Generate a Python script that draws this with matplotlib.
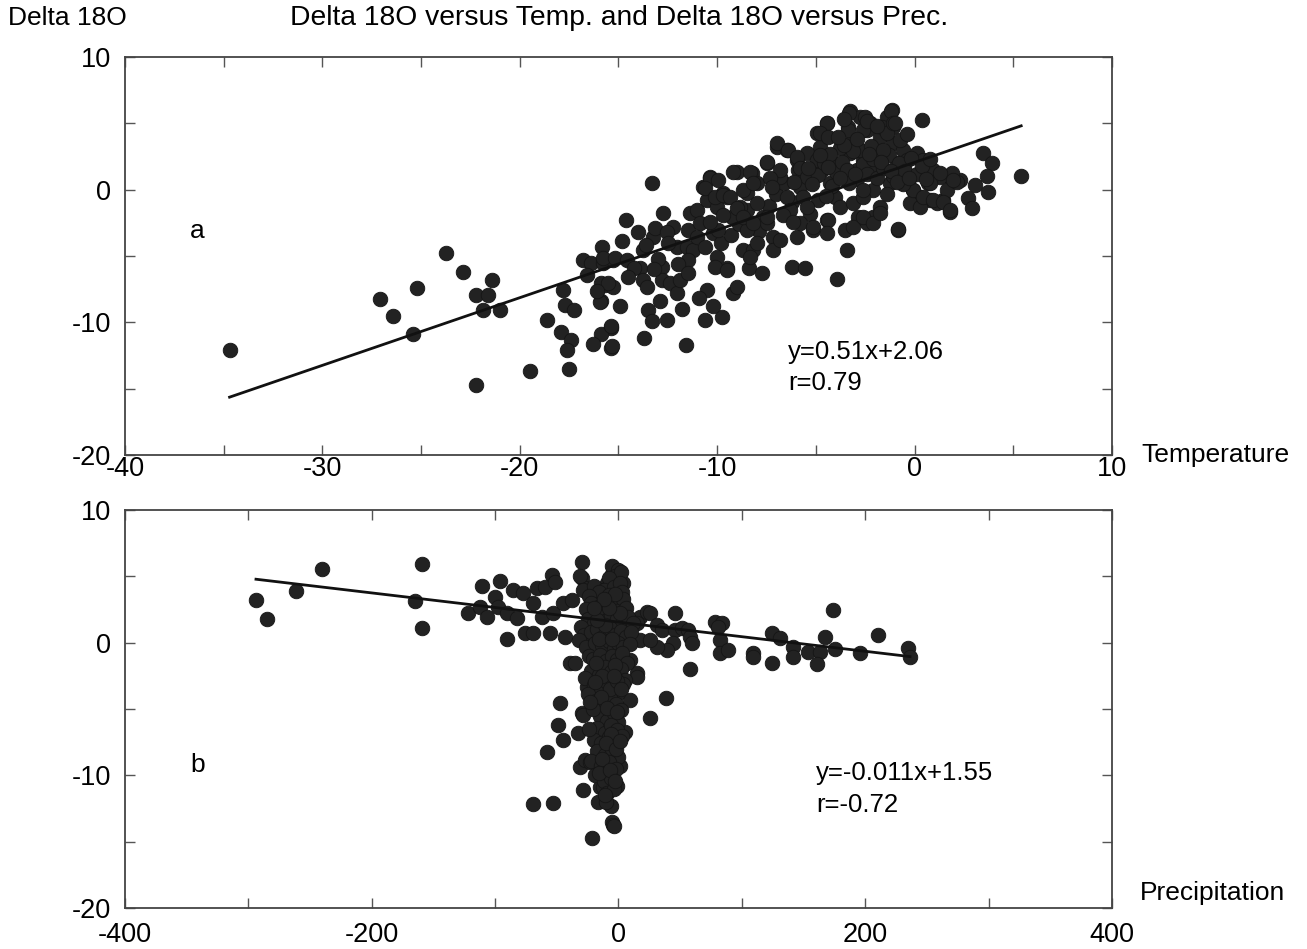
import matplotlib
matplotlib.use("Agg")
import matplotlib.pyplot as plt
import numpy as np
from matplotlib.ticker import MultipleLocator

plt.rcParams['font.family'] = ['Liberation Sans', 'DejaVu Sans']
plt.rcParams['axes.unicode_minus'] = False

# ---------------- data: panel a (Temperature, Delta 18O) ----------------
a_left = [(-34.7, -12.1), (-27.1, -8.26), (-26.4, -9.5), (-25.2, -7.4), (-25.4, -10.9),
          (-23.75, -4.75), (-22.9, -6.2), (-21.4, -6.8), (-22.2, -7.9), (-21.6, -7.9),
          (-21.85, -9.1), (-21.0, -9.1), (-22.2, -14.7), (-19.5, -13.7), (-18.6, -9.8),
          (-17.8, -7.56), (-17.7, -8.7), (-17.25, -9.1), (-17.9, -10.7), (-17.4, -11.3),
          (-17.6, -12.1), (-17.5, -13.5), (-16.8, -5.3), (-16.4, -5.55), (-15.85, -4.3),
          (-15.8, -5.55), (-15.3, -5.3), (-15.7, -7.2), (-15.3, -7.3), (-15.9, -8.4),
          (-15.4, -10.4), (-15.9, -10.9), (-16.3, -11.6), (-15.4, -11.9)]

a_outer = [(-14.6, -2.3), (-13.3, 0.5), (-13.5, -9.1), (-13.3, -9.9), (-12.55, -9.8),
           (-13.7, -11.2), (-11.6, -11.7), (-15.35, -11.8), (-15.4, -10.3), (-10.6, -9.8),
           (-9.77, -9.6), (-10.5, -7.56), (-10.2, -8.8), (-9.2, -7.8), (-9.0, -7.3),
           (-3.95, -6.7), (-6.2, -5.8), (-5.55, -5.9), (-8.4, -5.9), (-7.75, -6.3),
           (-9.5, -5.9), (-0.83, -3.0), (5.4, 1.03), (0.36, 5.25), (-3.27, 5.9),
           (-1.16, 6.0), (3.48, 2.8), (3.9, 2.0), (3.65, 1.0), (3.06, 0.35),
           (3.73, -0.15), (2.72, -0.65), (2.9, -1.4), (1.8, -1.65), (1.7, 1.0), (2.3, 0.73)]

a_cloud_left = [(-15.77, -5.17), (-15.18, -5.17), (-14.59, -5.3), (-14.0, -3.16), (-13.74, -4.54),
                (-13.24, -3.54), (-13.91, -5.92), (-13.74, -6.8), (-13.58, -7.3), (-12.82, -5.8),
                (-12.82, -6.8), (-12.39, -7.05), (-12.06, -7.81), (-11.89, -6.8), (-15.86, -7.05),
                (-15.52, -7.05), (-15.94, -8.44), (-13.15, -2.91), (-12.73, -1.78), (-12.23, -2.78),
                (-12.56, -3.16), (-12.06, -4.29), (-11.55, -4.29), (-11.47, -3.03), (-11.38, -1.78),
                (-11.04, -1.53), (-10.87, -2.53), (-11.21, -4.54), (-11.47, -5.3), (-10.03, -5.04),
                (-10.11, -5.8), (-9.52, -6.05)]

a_cloud_extra = [(-14.8, -3.9), (-14.2, -5.9), (-13.6, -4.2), (-13.0, -5.2), (-12.5, -4.0),
                 (-12.0, -5.6), (-11.5, -6.3), (-11.0, -3.6), (-10.6, -4.3), (-10.2, -3.3),
                 (-9.8, -4.0), (-9.3, -3.4), (-8.9, -2.6), (-8.5, -1.5), (-7.9, -3.1),
                 (-7.4, -1.2), (-7.0, -0.3), (-6.6, 0.5), (-6.2, -0.9), (-5.8, 0.2),
                 (-5.3, -1.8), (-4.9, -0.8), (-14.5, -6.6), (-13.2, -6.0), (-12.9, -8.4),
                 (-11.8, -9.0), (-10.9, -8.2), (-16.6, -6.4), (-16.1, -7.6), (-14.9, -8.8)]

a_cloud_mid = [(-10.71, 0.23), (-10.37, 0.98), (-10.54, -0.77), (-10.03, -1.28), (-9.95, -3.03),
               (-9.69, -0.27), (-9.52, -0.52), (-9.02, 1.36), (-8.85, -1.28), (-8.51, -0.27),
               (-9.27, -2.03), (-8.51, -3.03), (-8.68, -4.54), (-8.17, -4.54), (-8.0, -4.04),
               (-8.34, -5.04), (-8.26, 1.24), (-8.0, 0.48), (-8.0, -1.03), (-7.67, -2.03),
               (-7.5, 1.99), (-7.5, -2.53), (-7.16, -3.54), (-6.99, 3.24), (-6.82, 0.98),
               (-6.48, 2.99), (-6.48, -0.52), (-6.31, -1.53), (-5.98, 2.24), (-5.89, 1.49),
               (-7.16, -4.54), (-6.82, -3.79), (-5.98, -3.54), (-5.81, -2.53)]

a_cloud_right = [(-5.64, -0.52), (-5.47, -1.28), (-5.13, -3.03), (-4.96, 4.25), (-4.8, 3.24),
                 (-4.71, 1.49), (-4.46, 5.0), (-4.46, -2.28), (-4.29, 0.48), (-4.12, 1.99),
                 (-4.04, -0.52), (-3.78, -1.28), (-3.44, -4.54), (-3.36, 4.75), (-3.28, 2.74),
                 (-3.44, 0.98), (-3.53, -3.03), (-3.11, 3.75), (-2.94, 1.49), (-2.77, 5.5),
                 (-2.6, 2.24), (-2.43, 4.5), (-2.26, 2.99), (-2.09, -0.02), (-1.92, 1.74),
                 (-1.76, 4.0), (-1.59, 2.74), (-1.42, 5.5), (-1.25, 0.48), (-1.08, 4.75),
                 (-1.08, 3.5), (-0.91, 1.99), (-0.74, 1.24), (-2.85, -2.03), (-2.43, -2.53),
                 (-2.09, -2.03), (-1.76, -1.28), (-3.11, -1.03), (-2.6, -0.52), (-0.57, 2.99),
                 (-0.4, 2.24), (-0.24, 0.98), (-0.07, -0.02), (0.1, 2.74), (0.27, -0.52),
                 (0.44, 2.24), (0.69, 0.48), (0.78, -0.77), (0.95, 1.49), (1.12, -1.03),
                 (1.45, -0.77), (1.28, 0.98), (-0.24, -1.03), (0.27, -1.28), (1.62, -0.02),
                 (1.87, 1.24), (2.13, 0.61)]

a_cloud_upper = [(-3.31, 5.8), (-1.21, 5.95), (-4.45, 5.05), (-4.79, 4.25), (-4.37, 4.0),
                 (-2.51, 5.5), (-2.25, 5.0), (-2.6, 4.5), (-3.36, 4.5), (-1.67, 4.75),
                 (-1.41, 4.25), (-1.08, 5.0), (-0.74, 3.75), (-3.78, 3.12), (-3.27, 3.24),
                 (-2.77, 3.0), (-2.09, 2.74), (-6.99, 3.5), (-6.4, 2.99), (-5.47, 2.74),
                 (-5.97, 2.49), (-7.49, 2.11), (-6.82, 1.49), (-5.81, 1.61), (-5.47, 0.98),
                 (-4.96, 2.24), (-9.18, 1.36), (-8.34, 1.36), (-10.37, 0.86), (-9.94, 0.73),
                 (-10.62, 0.1), (-10.11, -0.53), (-9.69, -0.4), (-9.35, -0.53), (-8.68, -0.02),
                 (-8.17, 0.48), (-7.33, 0.86), (-7.24, 0.23), (-9.69, -1.9), (-9.01, -1.4),
                 (-10.37, -2.41), (-8.68, -2.03), (-8.17, -2.53), (-7.49, -2.03), (-6.65, -1.9),
                 (-6.14, -2.41), (-5.13, -2.79), (-4.37, -2.28), (-4.45, -3.29), (-3.1, -2.79),
                 (-2.6, -2.03), (-2.09, -2.53), (-1.75, -1.78), (-0.83, -2.98), (-0.07, -0.02),
                 (0.44, -0.53), (0.95, -0.78), (1.45, -0.9), (1.79, -1.53), (0.78, 0.48),
                 (1.28, 1.24), (1.96, 0.73)]

a_core = [(-4.9, 1.1), (-4.6, 2.0), (-4.3, 2.7), (-4.0, 1.3), (-3.7, 2.1), (-3.4, 1.5),
          (-3.1, 2.9), (-2.9, 0.8), (-2.6, 1.9), (-2.4, 1.2), (-2.1, 2.3), (-1.9, 0.9),
          (-1.6, 1.6), (-1.3, 2.6), (-1.1, 1.0), (-0.8, 2.0), (-0.5, 1.4), (-0.2, 2.4),
          (0.1, 1.2), (0.4, 1.8), (-3.6, 3.4), (-2.9, 3.8), (-2.2, 3.3), (-1.6, 3.0),
          (-4.2, 0.3), (-3.3, 0.5), (-2.6, 0.0), (-1.4, -0.3), (-0.6, 0.4), (-5.4, 1.6),
          (-6.1, 0.6), (-4.8, 2.6), (-3.9, 4.0), (-2.4, 5.2), (-3.6, 5.3), (-1.9, 4.8),
          (-0.4, 4.2), (-1.0, 5.0), (-4.4, 1.7), (-3.8, 0.9), (-3.0, 1.2), (-2.3, 2.7),
          (-1.7, 2.1), (-1.2, 1.4), (-0.9, 0.6), (-0.3, 0.9), (0.6, 0.8), (0.8, 2.3),
          (-5.2, 0.4), (-4.5, -0.5)]

slope_a, icpt_a = 0.51, 2.06
eq_a = "y=0.51x+2.06"
r_a = "r=0.79"

# ---------------- data: panel b (Precipitation, Delta 18O) ----------------
b_outer = [(-293.8, 3.21), (-285, 1.78), (-261.6, 3.92), (-240, 5.55), (-165.2, 3.16),
           (-159.5, 5.93), (-159, 1.08), (-121.7, 2.2), (-111, 4.27), (-112.3, 2.71),
           (-106.9, 1.96), (-96, 4.65), (-100.1, 3.47), (-97.4, 2.71), (-90.7, 2.21),
           (-90.7, 0.25), (-85.3, 3.97), (-77.2, 3.72), (-82.6, 1.83), (-75.8, 0.7),
           (-69, 0.7), (-66.4, 4.1), (-59.6, 4.22), (-54.2, 5.1), (-51.5, 4.6),
           (-69, 2.96), (-62.3, 1.96), (-55.5, 0.7), (-52.8, 2.21), (-43.4, 0.45),
           (-44.8, 2.96), (-38, 3.21), (-29.9, 6.1), (-29.9, 4.85), (-27.2, 4.1),
           (-47.5, -4.57), (-48.8, -6.2), (-44.8, -7.34), (-58.2, -8.27), (-29.9, -5.33),
           (-32.6, -6.83), (-31.2, -9.35), (-27.2, -8.84), (-28.5, -11.1), (-15, -10.85),
           (-16.4, -11.98), (-69.6, -12.16), (-52.8, -12.1), (-21.8, -14.75), (-5.6, -13.5),
           (-39.4, -1.56), (-25.8, -3.32), (-31.2, 5.0), (-28.5, 4.0), (-5.5, 5.2),
           (1.2, 5.35), (3.9, 4.48), (-9.6, 4.48), (-12.4, 3.97), (14.7, -2.3),
           (9.3, -1.3), (17.4, 1.96), (22.8, 2.34), (-28.5, -5.45), (-23.2, -8.97),
           (-15.1, -8.97), (-12.4, -10.85), (9.3, -4.3), (5.3, -6.7), (1.2, -9.3),
           (-4.2, -13.75)]

b_right = [(25.5, 2.27), (45.8, 2.27), (57.9, -2.0), (78.2, 1.58), (83.6, 1.46),
           (80.9, 1.2), (82.3, 0.2), (82.3, -0.75), (89, -0.55), (109.2, -0.75),
           (109.2, -1.05), (124.1, 0.71), (130.9, 0.33), (124.1, -1.5), (141.7, -0.3),
           (141.7, -1.05), (153.8, -0.68), (163.3, -0.68), (160.6, -1.6), (167.3, 0.45),
           (174.1, 2.46), (175.5, -0.5), (195.7, -0.75), (210.5, 0.58), (234.9, -0.42),
           (236.3, -1.05), (31, 1.33), (35, 0.96), (45.8, 0.96), (51.2, 1.08),
           (56.6, 0.96), (57.9, 0.45), (59.3, -0.05), (44.4, -0.05), (39, -0.55),
           (31, -0.3), (17.4, 0.2), (25.5, 0.2), (14.7, 1.46), (38.5, -4.15),
           (25.5, -5.7), (14.7, -2.56)]

b_column = [(-5, 5.8), (0, 5.5), (-3, 5.0), (2, 5.3), (-8, 4.9),
            (-20, 4.3), (-12, 4.0), (-4, 4.2), (1, 4.5), (-16, 3.8), (-8, 3.6), (3, 3.8), (-24, 3.5),
            (-22, 3.0), (-15, 2.8), (-10, 3.2), (-5, 2.9), (0, 3.0), (4, 3.3), (-18, 2.3),
            (-2, 2.4), (6, 2.6), (-26, 2.5),
            (-25, 1.8), (-20, 1.5), (-14, 2.0), (-9, 1.7), (-6, 2.1), (-1, 1.8), (3, 1.4),
            (8, 1.9), (12, 1.5), (-30, 1.2),
            (-28, 0.6), (-22, 0.8), (-17, 1.0), (-12, 0.5), (-7, 1.1), (-3, 0.6), (2, 0.9),
            (6, 0.4), (10, 0.8), (-32, 0.2),
            (-26, -0.3), (-19, 0.0), (-13, -0.2), (-8, 0.1), (-4, -0.5), (0, 0.0), (4, -0.3),
            (9, -0.1), (-24, -1.0),
            (-21, -1.2), (-15, -0.9), (-10, -1.4), (-5, -1.0), (-1, -1.3), (3, -0.8), (7, -1.5),
            (-35, -1.5),
            (-22, -2.1), (-16, -2.4), (-11, -1.8), (-6, -2.2), (-2, -2.6), (2, -2.0), (5, -2.8),
            (-27, -2.7),
            (-20, -3.2), (-14, -3.6), (-9, -3.0), (-4, -3.4), (0, -3.8), (4, -3.1), (-25, -3.9),
            (-18, -4.4), (-12, -4.8), (-7, -4.2), (-2, -4.6), (2, -5.1), (-15, -5.5), (-9, -5.9),
            (-4, -5.3), (0, -6.0), (-21, -5.0),
            (-17, -6.4), (-11, -6.8), (-6, -6.2), (-1, -6.6), (3, -7.0), (-20, -7.3), (-14, -7.6),
            (-8, -7.1), (-3, -7.8), (-24, -6.5),
            (-17, -8.2), (-11, -8.5), (-5, -8.0), (0, -8.6), (-22, -8.9), (-14, -9.3), (-8, -9.0),
            (-2, -9.5),
            (-19, -10.0), (-12, -10.4), (-6, -10.2), (-1, -10.8), (-9, -11.3), (-4, -11.0),
            (-6, -12.3), (-10, -12.0), (-4, -13.8),
            (-18, -1.5), (-13, -2.5), (-7, -3.5), (-3, -1.7), (-16, 0.3), (-11, 1.3), (-5, 0.3),
            (-1, -2.9), (-19, -3.0), (-14, -4.1), (-9, -4.9), (-4, -2.5), (1, 2.2), (-23, -4.5),
            (-17, 1.7), (-8, 2.6), (-3, 3.7), (-12, 3.3), (-20, 2.6), (-6, -6.9), (-10, -7.6),
            (-2, -8.0), (-13, -8.8), (-16, -9.8), (-7, -9.6), (-3, -10.4), (-11, -11.5),
            (2, -3.5), (1, -7.4), (-1, -5.2)]

slope_b, icpt_b = -0.011, 1.55
eq_b = "y=-0.011x+1.55"
r_b = "r=-0.72"

# ---------------- figure ----------------
fig = plt.figure(figsize=(13.07, 9.49), dpi=100)
fig.patch.set_facecolor('white')
ax1 = fig.add_axes([0.0956, 0.5205, 0.7552, 0.4194])
ax2 = fig.add_axes([0.0956, 0.0432, 0.7552, 0.4194])

TICK_FS = 19.5
LAB_FS = 19
TITLE_FS = 20.3
EQ_FS = 18.5
dot_kw = dict(s=110, facecolor='#222222', edgecolor='#151515', linewidths=0.6, zorder=2)


def style(ax, xmaj, xmin, xpad):
    ax.xaxis.set_major_locator(MultipleLocator(xmaj))
    ax.xaxis.set_minor_locator(MultipleLocator(xmin))
    ax.yaxis.set_major_locator(MultipleLocator(10))
    ax.yaxis.set_minor_locator(MultipleLocator(5))
    ax.tick_params(which='both', direction='in', top=True, right=True,
                   length=7, width=1.0, color='#555555', labelsize=TICK_FS)
    ax.tick_params(axis='x', which='major', pad=xpad)
    ax.tick_params(axis='y', which='major', pad=10)
    for sp in ax.spines.values():
        sp.set_linewidth(1.3)
        sp.set_color('#444444')


a_pts = np.array(a_left + a_outer + a_cloud_left + a_cloud_extra + a_cloud_mid
                 + a_cloud_right + a_cloud_upper + a_core)
temp = a_pts[:, 0]
d18o_a = a_pts[:, 1]
ax1.scatter(temp, d18o_a, **dot_kw)
xa = np.array([temp.min(), temp.max()])
ax1.plot(xa, slope_a * xa + icpt_a, color='#111111', lw=2.0, zorder=3)
ax1.set_xlim(-40, 10)
ax1.set_ylim(-20, 10)
style(ax1, 10, 5, 1)
ax1.text(0.066, 0.563, "a", transform=ax1.transAxes, fontsize=LAB_FS, va='center', ha='left')
ax1.text(0.672, 0.259, eq_a, transform=ax1.transAxes, fontsize=EQ_FS, va='center', ha='left')
ax1.text(0.672, 0.180, r_a, transform=ax1.transAxes, fontsize=EQ_FS, va='center', ha='left')

b_pts = np.array(b_outer + b_right + b_column)
prec = b_pts[:, 0]
d18o_b = b_pts[:, 1]
ax2.scatter(prec, d18o_b, **dot_kw)
xb = np.array([prec.min(), prec.max()])
ax2.plot(xb, slope_b * xb + icpt_b, color='#111111', lw=2.0, zorder=3)
ax2.set_xlim(-400, 400)
ax2.set_ylim(-20, 10)
style(ax2, 200, 100, 10)
ax2.text(0.066, 0.359, "b", transform=ax2.transAxes, fontsize=LAB_FS, va='center', ha='left')
ax2.text(0.700, 0.339, eq_b, transform=ax2.transAxes, fontsize=EQ_FS, va='center', ha='left')
ax2.text(0.700, 0.258, r_b, transform=ax2.transAxes, fontsize=EQ_FS, va='center', ha='left')

fig.text(0.006, 0.981, "Delta 18O", fontsize=LAB_FS, va='center', ha='left')
fig.text(0.4736, 0.981, "Delta 18O versus Temp. and Delta 18O versus Prec.",
         fontsize=TITLE_FS, va='center', ha='center')
fig.text(0.873, 0.5205, "Temperature", fontsize=LAB_FS, va='center', ha='left')
fig.text(0.872, 0.059, "Precipitation", fontsize=LAB_FS, va='center', ha='left')

fig.savefig("out.png", dpi=100, facecolor='white')
